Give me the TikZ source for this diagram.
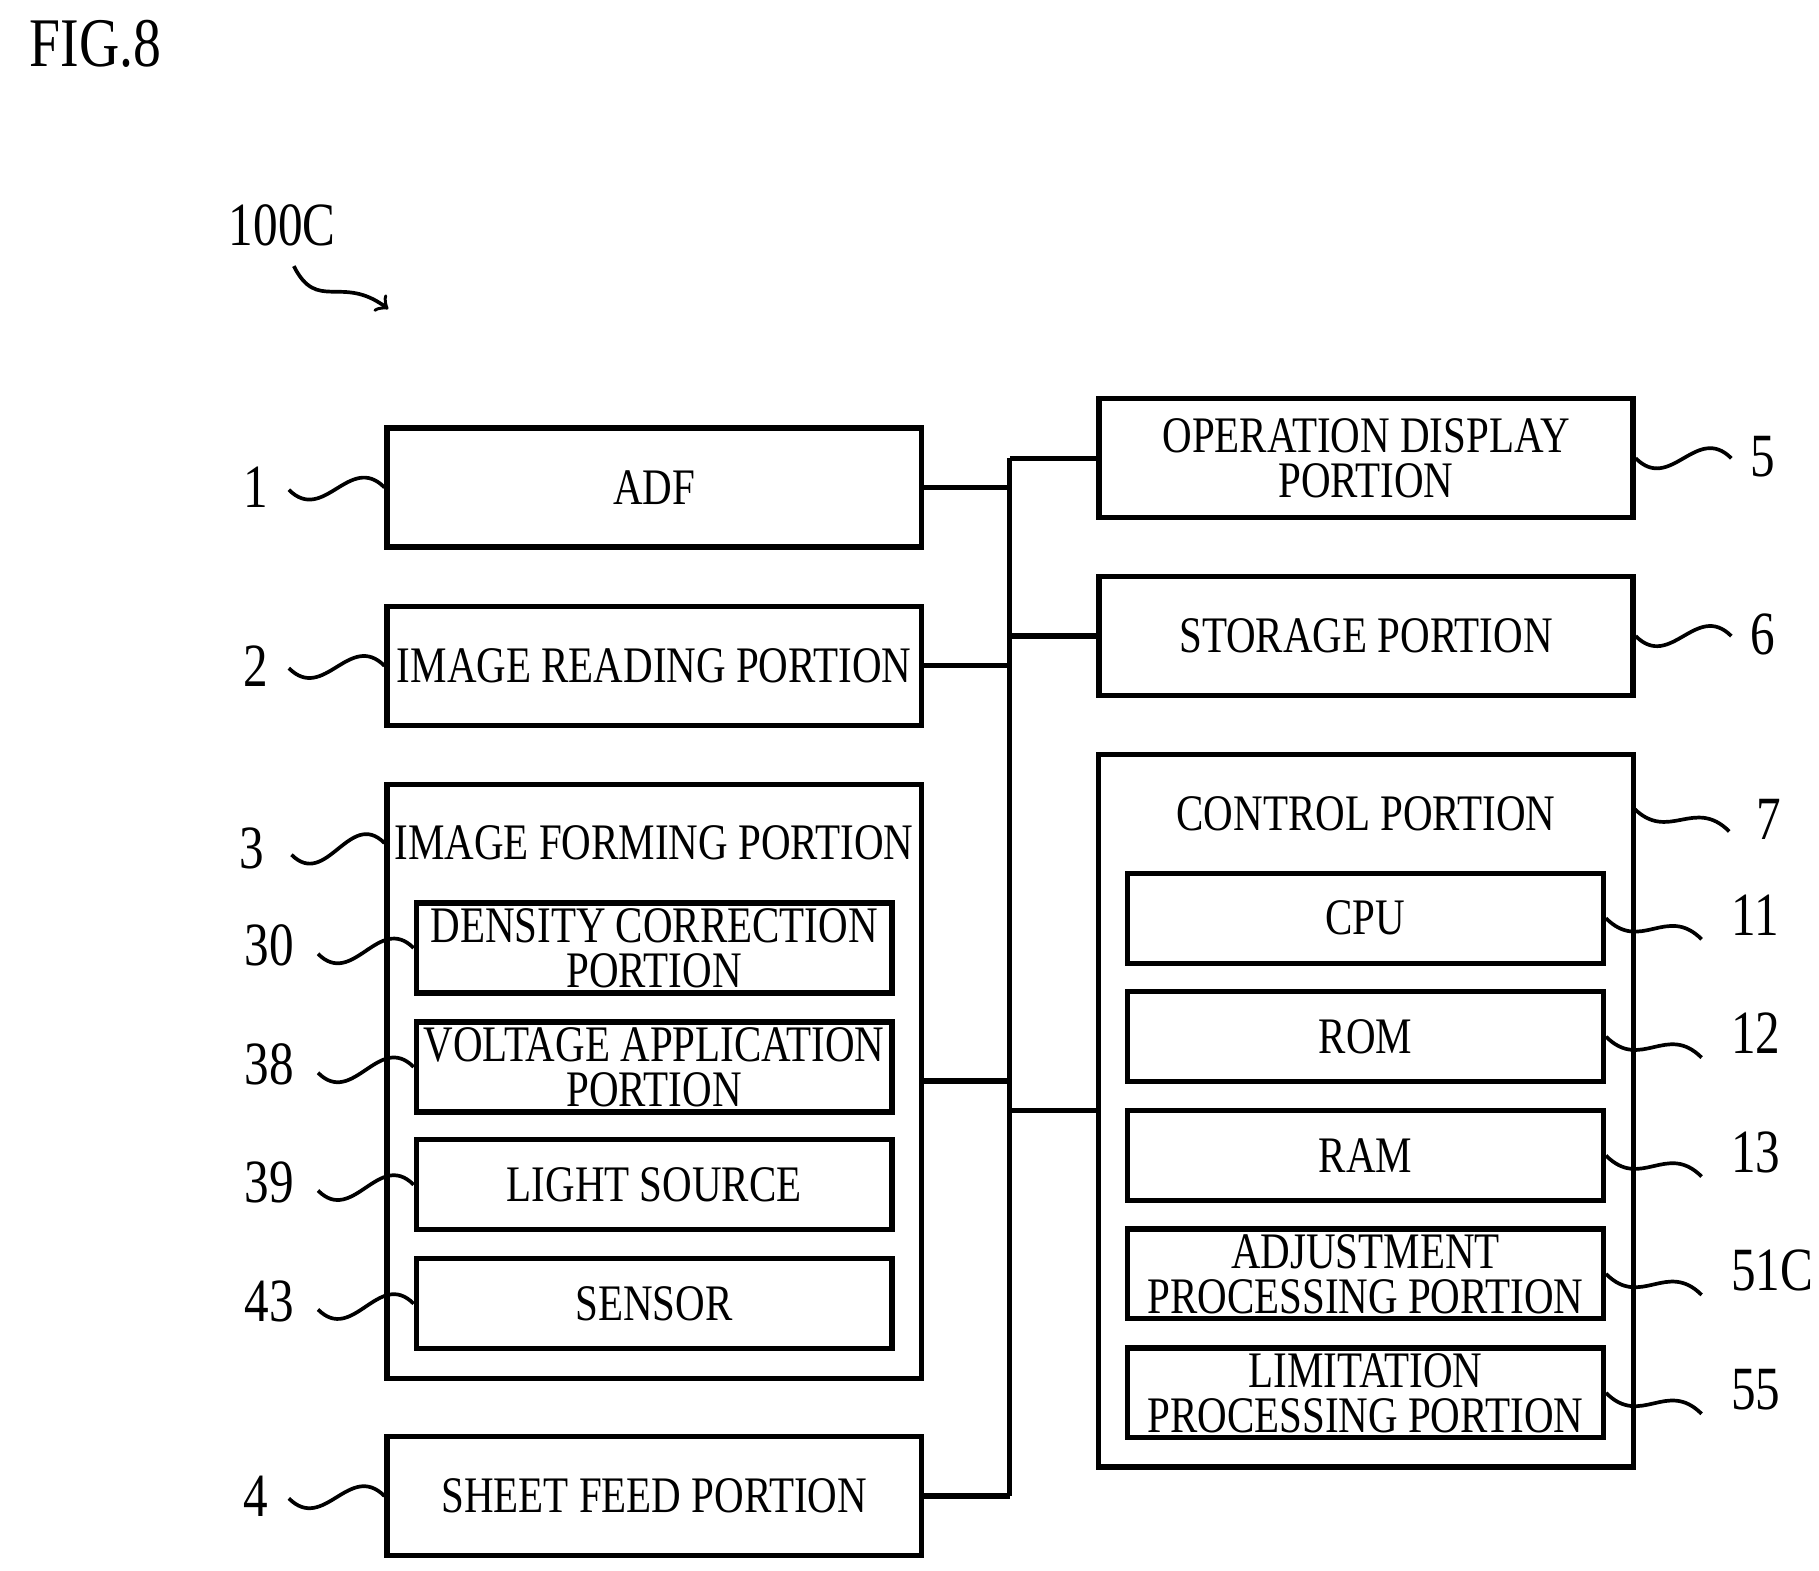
\documentclass[tikz,border=0pt]{standalone}
\usepackage{fontspec}
\setmainfont{Liberation Serif}[FakeStretch=0.8]
\usetikzlibrary{positioning,calc}
\tikzset{
  box/.style={draw,line width=1.3pt,align=center,font=\fontsize{12.5}{12}\selectfont,inner sep=0pt},
  big/.style={box,minimum width=4.58cm,minimum height=1.02cm},
  sub/.style={box,minimum width=4.08cm,minimum height=0.77cm},
  num/.style={font=\fontsize{15}{15}\selectfont},
  wire/.style={line width=1.3pt},
  lead/.style={line width=0.9pt}
}
\newcommand{\wave}[2]{\draw[lead] (#1) .. controls +(0.3,-0.3) and +(-0.3,0.3) .. (#2);}
\begin{document}
\begin{tikzpicture}
\useasboundingbox (0,0) rectangle (15.6,-13.47);
\node[font=\fontsize{17}{17}\selectfont] (fig) at (0.82,-0.38) {FIG.8};
\node[num] (sys) at (2.42,-1.93) {100C};
\coordinate (sysarr) at (3.33,-2.65);
\draw[lead,->] ($(sys.south)+(0.1,-0.05)$) .. controls +(0.2,-0.4) and +(-0.4,0.3) .. (sysarr);

% left column
\node[big] (adf) at (5.61,-4.18) {ADF};
\node[big] (read) at (5.61,-5.71) {IMAGE READING PORTION};
\node[box,minimum width=4.58cm,minimum height=5.09cm] (form) at (5.61,-9.275) {};
\node[box,draw=none] (formt) at (5.61,-7.23) {IMAGE FORMING PORTION};
\node[sub] (dens) at (5.61,-8.13) {DENSITY CORRECTION\\[-1pt]PORTION};
\node[sub] (volt) at (5.61,-9.15) {VOLTAGE APPLICATION\\[-1pt]PORTION};
\node[sub] (light) at (5.61,-10.16) {LIGHT SOURCE};
\node[sub] (sens) at (5.61,-11.18) {SENSOR};
\node[big] (feed) at (5.61,-12.83) {SHEET FEED PORTION};

% right column
\node[big] (disp) at (11.715,-3.93) {OPERATION DISPLAY\\[-1pt]PORTION};
\node[big] (stor) at (11.715,-5.455) {STORAGE PORTION};
\node[box,minimum width=4.59cm,minimum height=6.11cm] (ctrl) at (11.715,-9.525) {};
\node[box,draw=none] (ctrlt) at (11.715,-6.98) {CONTROL PORTION};
\node[sub] (cpu) at (11.71,-7.875) {CPU};
\node[sub] (rom) at (11.71,-8.89) {ROM};
\node[sub] (ram) at (11.71,-9.91) {RAM};
\node[sub] (adj) at (11.71,-10.925) {ADJUSTMENT\\[-1pt]PROCESSING PORTION};
\node[sub] (lim) at (11.71,-11.945) {LIMITATION\\[-1pt]PROCESSING PORTION};

% bus
\coordinate (bt) at (8.66,-3.93);
\coordinate (bb) at (8.66,-12.83);
\draw[wire] (bt) -- (bb);
\draw[wire] (adf.east) -- (adf.east -| bt);
\draw[wire] (read.east) -- (read.east -| bt);
\draw[wire] (8.66,-9.27) -- (form.east |- 0,-9.27);
\draw[wire] (feed.east) -- (bb);
\draw[wire] (bt) -- (disp.west);
\draw[wire] (stor.west -| bt) -- (stor.west);
\draw[wire] (ctrl.west -| bt) -- (ctrl.west);

% reference numerals, left
\foreach \n/\b/\t in {n1/adf/1,n2/read/2,n4/feed/4}{
  \node[num] (\n) at ($(\b.west)+(-1.1,0)$) {\t};
  \wave{$(\b.west)+(-0.82,-0.02)$}{\b.west}
}
\node[num] (n3) at (2.16,-7.28) {3};
\wave{2.5,-7.33}{form.north west |- 0,-7.23}
\foreach \n/\b/\t in {n30/dens/30,n38/volt/38,n39/light/39,n43/sens/43}{
  \node[num] (\n) at ($(\b.west)+(-1.24,0.02)$) {\t};
  \wave{$(\b.west)+(-0.82,-0.05)$}{\b.west}
}
% reference numerals, right
\foreach \n/\b/\t in {n5/disp/5,n6/stor/6}{
  \node[num] (\n) at ($(\b.east)+(1.09,0.01)$) {\t};
  \wave{\b.east}{$(\b.east)+(0.82,0)$}
}
\node[num] (n7) at (15.17,-7.03) {7};
\wave{14.01,-6.93}{14.83,-7.13}
\foreach \n/\b/\t in {n11/cpu/11,n12/rom/12,n13/ram/13,n51/adj/51C,n55/lim/55}{
  \node[num,anchor=west] (\n) at ($(\b.east)+(0.95,0.03)$) {\t};
  \wave{\b.east}{$(\b.east)+(0.82,-0.18)$}
}
\end{tikzpicture}
\end{document}
